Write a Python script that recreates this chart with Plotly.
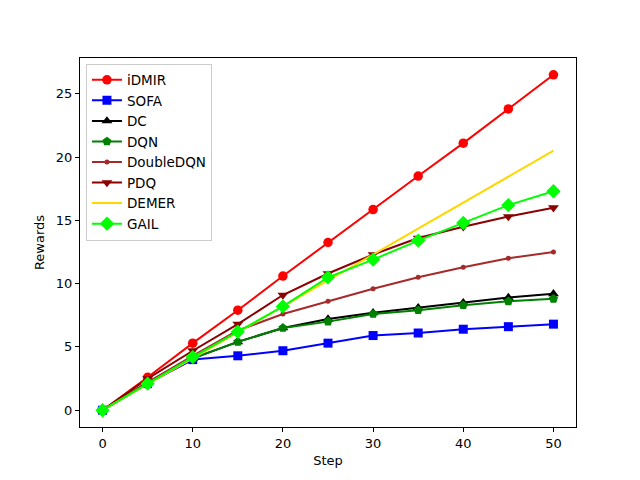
import plotly.graph_objects as go

steps = [0, 5, 10, 15, 20, 25, 30, 35, 40, 45, 50]
idmir = [0, 2.6, 5.3, 7.9, 10.6, 13.25, 15.85, 18.5, 21.1, 23.8, 26.5]
sofa = [0, 2.1, 4.0, 4.3, 4.7, 5.3, 5.9, 6.1, 6.4, 6.6, 6.8]
dc = [0, 2.2, 4.1, 5.4, 6.5, 7.2, 7.7, 8.1, 8.5, 8.9, 9.2]
dqn = [0, 2.2, 4.1, 5.4, 6.5, 7.0, 7.6, 7.9, 8.3, 8.6, 8.8]
doubledqn = [0, 2.2, 4.3, 6.3, 7.6, 8.6, 9.6, 10.5, 11.3, 12.0, 12.5]
pdq = [0, 2.5, 4.7, 6.8, 9.1, 10.8, 12.3, 13.6, 14.5, 15.3, 16.0]
demer = [0, 2.05, 4.1, 6.15, 8.2, 10.25, 12.3, 14.35, 16.4, 18.45, 20.5]
gail = [0, 2.1, 4.2, 6.2, 8.2, 10.5, 11.9, 13.4, 14.8, 16.2, 17.3]

series = [
    ("iDMIR", idmir, "#ff0000", "circle", 9.5),
    ("SOFA", sofa, "#0000ff", "square", 9),
    ("DC", dc, "#000000", "triangle-up", 9.5),
    ("DQN", dqn, "#008000", "pentagon", 9.5),
    ("DoubleDQN", doubledqn, "#a52a2a", "circle", 5),
    ("PDQ", pdq, "#8b0000", "triangle-down", 9.5),
    ("DEMER", demer, "#ffd700", None, 0),
    ("GAIL", gail, "#00ff00", "diamond", 11),
]

fig = go.Figure()
for name, vals, color, sym, size in series:
    if sym is None:
        fig.add_trace(go.Scatter(x=steps, y=vals, name=name, mode="lines",
                                 line=dict(color=color, width=2)))
    else:
        fig.add_trace(go.Scatter(x=steps, y=vals, name=name, mode="lines+markers",
                                 line=dict(color=color, width=2),
                                 marker=dict(symbol=sym, size=size, color=color,
                                             line=dict(width=0))))

axis_common = dict(showgrid=False, zeroline=False, showline=True, linecolor="black",
                   linewidth=1, mirror=True, ticks="outside", ticklen=4,
                   tickcolor="black", tickfont=dict(size=13, color="black"))

fig.update_layout(
    width=632, height=472,
    margin=dict(l=72, r=64, t=50, b=53),
    paper_bgcolor="white", plot_bgcolor="white",
    font=dict(family="DejaVu Sans", size=13, color="black"),
    xaxis=dict(range=[-2.5, 52.5], tickvals=[0, 10, 20, 30, 40, 50],
               title=dict(text="Step", font=dict(size=13), standoff=6), **axis_common),
    yaxis=dict(range=[-1.325, 27.825], tickvals=[0, 5, 10, 15, 20, 25],
               title=dict(text="Rewards", font=dict(size=13), standoff=8), **axis_common),
    legend=dict(x=0.012, y=0.985, xanchor="left", yanchor="top",
                bgcolor="rgba(255,255,255,0.8)", bordercolor="#cccccc", borderwidth=1,
                font=dict(size=13.5), tracegroupgap=0, itemwidth=30),
    showlegend=True,
)

fig.write_html("out.html")
